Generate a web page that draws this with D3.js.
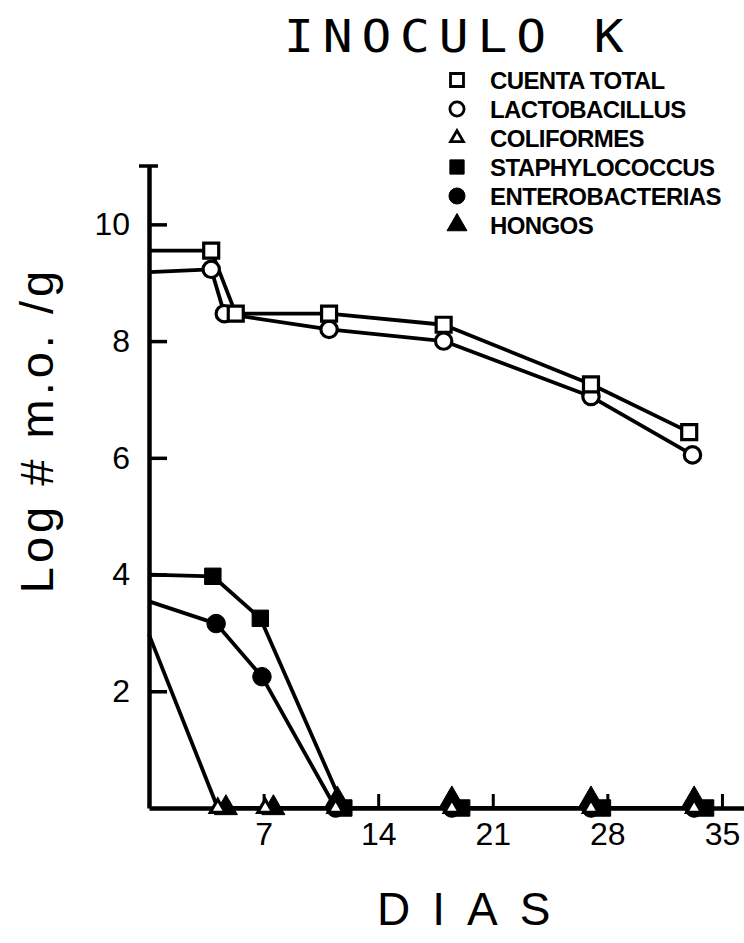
<!DOCTYPE html>
<html>
<head>
<meta charset="utf-8">
<script src="https://cdn.jsdelivr.net/npm/d3@7"></script>
<style>
  body { margin: 0; background: #fff; }
  svg { display: block; }
  .axis path, .axis line { stroke: #000; }
  .axis text { font-family: 'Liberation Sans', Arial, sans-serif; fill: #000; }
</style>
</head>
<body>
<svg class="svgChart"></svg>
<script>
// chart area (pixels of the 744x943 page)
const W = 744;
const H = 943;
const plot = { left: 149, right: 746.5, top: 166, bottom: 808 };

// day values and log counts, one pair per series
const cuentaDays = [0, 3.8, 5.3, 11, 18, 27, 33];
const cuentaVals = [9.55, 9.55, 8.47, 8.47, 8.28, 7.26, 6.44];

const lactoDays = [0, 3.8, 4.6, 11, 18, 27, 33.2];
const lactoVals = [9.18, 9.23, 8.47, 8.2, 8.0, 7.05, 6.05];

const coliDays = [0, 4.2, 7.1, 11.4, 18.5, 27, 33.3];
const coliVals = [2.97, 0, 0, 0, 0, 0, 0];

const staphDays = [0, 3.9, 6.8, 11.9, 19.1, 27.7, 34];
const staphVals = [4.0, 3.97, 3.25, 0, 0, 0, 0];

const enteroDays = [0, 4.1, 6.9, 11.4, 18.5, 27, 33.3];
const enteroVals = [3.54, 3.16, 2.25, 0, 0, 0, 0];

const hongosDays = [4.7, 7.6, 11.5, 18.5, 27, 33.3];
const hongosVals = [0, 0, 0.15, 0.15, 0.15, 0.15];

const seriesNames = ['CUENTA TOTAL', 'LACTOBACILLUS', 'COLIFORMES',
  'STAPHYLOCOCCUS', 'ENTEROBACTERIAS', 'HONGOS'];

const xTicks = [7, 14, 21, 28, 35];
const yTicks = [2, 4, 6, 8, 10];

/******************SCALES*********************/
const xScale = d3.scaleLinear()
  .domain([0, 36.5])
  .range([plot.left, plot.right]);

const yScale = d3.scaleLinear()
  .domain([0, 11])
  .range([plot.bottom, plot.top]);

const svg = d3.select('.svgChart')
  .attr('width', W)
  .attr('height', H);

// marker styles, in the same order as seriesNames
const markers = [
  { type: d3.symbolSquare, size: 225, fill: '#fff' },
  { type: d3.symbolCircle, size: 210, fill: '#fff' },
  { type: d3.symbolTriangle, size: 95, fill: '#fff' },
  { type: d3.symbolSquare, size: 270, fill: '#000' },
  { type: d3.symbolCircle, size: 270, fill: '#000' },
  { type: d3.symbolTriangle, size: 230, fill: '#000' }
];

const series = [
  { days: cuentaDays, vals: cuentaVals, m: markers[0], line: true },
  { days: lactoDays, vals: lactoVals, m: markers[1], line: true },
  { days: coliDays, vals: coliVals, m: markers[2], line: true },
  { days: staphDays, vals: staphVals, m: markers[3], line: true },
  { days: enteroDays, vals: enteroVals, m: markers[4], line: true },
  { days: hongosDays, vals: hongosVals, m: markers[5], line: false }
];

/******************AXES*********************/
svg.append('g')
  .attr('class', 'axis')
  .attr('transform', `translate(${plot.left},0)`)
  .call(d3.axisLeft(yScale)
    .tickValues(yTicks)
    .tickSizeInner(-18)
    .tickSizeOuter(0)
    .tickPadding(19))
  .call(g => g.select('.domain').attr('stroke-width', 4.5))
  .call(g => g.selectAll('.tick line').attr('stroke-width', 3.5))
  .call(g => g.selectAll('text').attr('font-size', 32));

//little cap at the top of the y axis
svg.append('line')
  .attr('x1', plot.left - 10)
  .attr('x2', plot.left + 9)
  .attr('y1', yScale(11))
  .attr('y2', yScale(11))
  .attr('stroke', '#000')
  .attr('stroke-width', 3.5);

svg.append('g')
  .attr('class', 'axis')
  .attr('transform', `translate(0,${plot.bottom})`)
  .call(d3.axisBottom(xScale)
    .tickValues(xTicks)
    .tickSizeInner(-14)
    .tickSizeOuter(0)
    .tickPadding(14))
  .call(g => g.select('.domain').attr('stroke-width', 4.5))
  .call(g => g.selectAll('.tick line').attr('stroke-width', 3))
  .call(g => g.selectAll('text').attr('font-size', 32));

/******************SERIES*********************/
const line = d3.line()
  .x(d => xScale(d[0]))
  .y(d => yScale(d[1]));

const drawOrder = [5, 3, 4, 2, 1, 0];

// lines first, then markers on top
series.forEach(s => {
  if (!s.line) return;
  svg.append('path')
    .datum(d3.zip(s.days, s.vals))
    .attr('fill', 'none')
    .attr('stroke', '#000')
    .attr('stroke-width', 3.8)
    .attr('stroke-linejoin', 'round')
    .attr('d', line);
});

drawOrder.forEach(i => {
  const s = series[i];
  svg.append('g')
    .selectAll('path')
    .data(d3.zip(s.days, s.vals).filter(d => d[0] > 0))
    .enter()
    .append('path')
      .attr('transform', d => `translate(${xScale(d[0])},${yScale(d[1])})`)
      .attr('d', d3.symbol().type(s.m.type).size(s.m.size))
      .attr('fill', s.m.fill)
      .attr('stroke', '#000')
      .attr('stroke-width', s.m.fill === '#fff' ? 3.2 : 1);
});

/******************TEXTS*********************/
//title, a bit wider than the mono font
svg.append('text')
  .attr('transform', 'translate(284, 52) scale(1.1, 1)')
  .attr('font-family', "'DejaVu Sans Mono', monospace")
  .attr('font-size', 45)
  .attr('letter-spacing', 8.1)
  .text('INOCULO K');

const legend = svg.append('g')
  .selectAll('g')
  .data(seriesNames)
  .enter()
  .append('g')
    .attr('transform', (d, i) => `translate(457, ${80 + i * 29})`);

legend.append('path')
  .attr('d', (d, i) => d3.symbol().type(markers[i].type)
    .size(markers[i].size * 0.75)())
  .attr('fill', (d, i) => markers[i].fill)
  .attr('stroke', '#000')
  .attr('stroke-width', (d, i) => markers[i].fill === '#fff' ? 2.8 : 1);

legend.append('text')
  .attr('x', 33)
  .attr('dy', '0.36em')
  .attr('font-family', "'Liberation Sans', Arial, sans-serif")
  .attr('font-weight', 'bold')
  .attr('font-size', 24)
  .attr('letter-spacing', -0.6)
  .text(d => d);

//y axis title
svg.append('text')
  .attr('transform', `translate(53, 430) rotate(-90)`)
  .attr('text-anchor', 'middle')
  .attr('font-family', "'Liberation Sans', Arial, sans-serif")
  .attr('font-size', 47)
  .attr('letter-spacing', 4)
  .text('Log # m.o. /g');

//x axis title
svg.append('text')
  .attr('x', 377)
  .attr('y', 925)
  .attr('font-family', "'Liberation Sans', Arial, sans-serif")
  .attr('font-size', 46)
  .attr('letter-spacing', 22)
  .text('DIAS');
</script>
</body>
</html>
